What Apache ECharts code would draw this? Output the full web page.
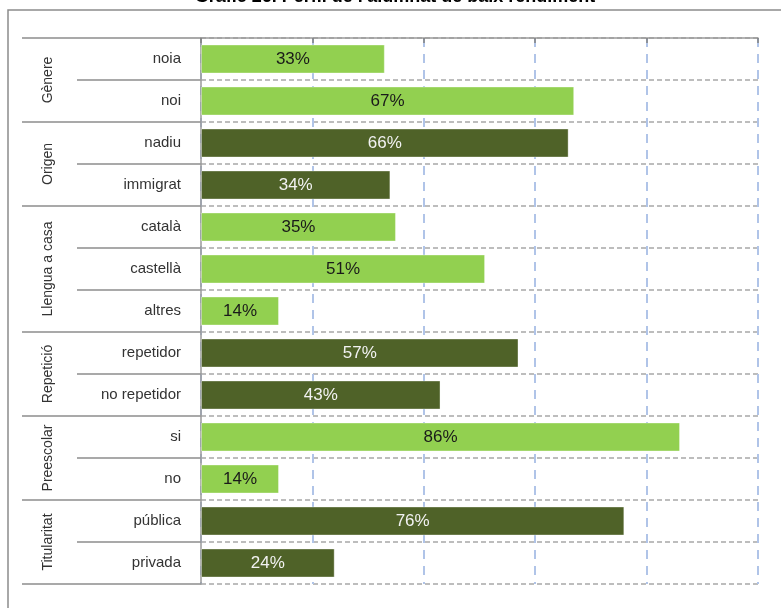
<!DOCTYPE html>
<html>
<head>
<meta charset="utf-8">
<script src="https://cdn.jsdelivr.net/npm/echarts@6/dist/echarts.min.js"></script>
<style>
html,body{margin:0;padding:0;background:#fff;}
#c{width:781px;height:608px;}
</style>
</head>
<body>
<div id="c"></div>
<script>
const titleText = "Gràfic 26. Perfil de l'alumnat de baix rendiment";
const categories = ['noia','noi','nadiu','immigrat','català','castellà','altres','repetidor','no repetidor','si','no','pública','privada'];
const values = [33,67,66,34,35,51,14,57,43,86,14,76,24];
const groups = ['Gènere','Origen','Llengua a casa','Repetició','Preescolar','Titularitat'];
const groupSizes = [2,2,3,2,2,2];
const axisTicks = [0,20,40,60,80,100];

const LIGHT = '#92D050', DARK = '#4F6228';
const groupOf = [];
groupSizes.forEach((n,g)=>{ for(let i=0;i<n;i++) groupOf.push(g); });

const chart = echarts.init(document.getElementById('c'));
const option = {
  animation:false,
  backgroundColor:'#fff',
  grid:{left:201,right:23,top:38,bottom:24,containLabel:false},
  xAxis:{
    type:'value', position:'top', min:axisTicks[0], max:axisTicks[axisTicks.length-1], interval:axisTicks[1]-axisTicks[0],
    axisLine:{show:true,lineStyle:{color:'#9a9a9a',width:1.5}},
    axisTick:{show:true,inside:true,length:5,lineStyle:{color:'#808080',width:1.5}},
    axisLabel:{show:false},
    splitLine:{show:true,lineStyle:{color:'#B0C4E8',type:[9,7],width:2}}
  },
  yAxis:{
    type:'category', inverse:true, data:categories,
    axisLine:{show:true,lineStyle:{color:'#9a9a9a',width:1.5}},
    axisTick:{show:false},
    axisLabel:{margin:20,fontSize:15,color:'#333',fontFamily:'Liberation Sans, Arial, sans-serif'},
    splitLine:{show:true,lineStyle:{color:'#a8a8a8',type:[5,3],width:1.5}}
  },
  series:[{
    type:'bar',
    barWidth:29,
    data:values.map((v,i)=>({
      value:v,
      itemStyle:{color: groupOf[i]%2===0?LIGHT:DARK, borderColor:'rgba(255,255,255,0.35)', borderWidth:1},
      label:{color: groupOf[i]%2===0?'#1a1a1a':'#f2f2f2'}
    })),
    label:{show:true,position:'inside',formatter:'{c}%',fontSize:17,fontFamily:'Liberation Sans, Arial, sans-serif'}
  }]
};
chart.setOption(option);

const centers = categories.map(c=>chart.convertToPixel({yAxisIndex:0}, c));
const band = centers.length>1 ? (centers[1]-centers[0]) : 42;
const axisX = chart.convertToPixel({xAxisIndex:0}, 0);
const els = [];
els.push({type:'rect',shape:{x:8,y:10,width:800,height:640},style:{fill:'none',stroke:'#8c8c8c',lineWidth:1.5},silent:true});
els.push({type:'text',x:395,y:6,style:{text:titleText,font:'bold 18px "Liberation Sans", Arial, sans-serif',fill:'#000',textAlign:'center',textVerticalAlign:'bottom'}});
const groupEnds = [];
let acc = 0; groupSizes.forEach(n=>{acc+=n; groupEnds.push(acc);});
for(let b=0;b<=categories.length;b++){
  const y = b<categories.length ? centers[b]-band/2 : centers[categories.length-1]+band/2;
  const isGroup = b===0 || groupEnds.indexOf(b)>=0;
  els.push({type:'line',shape:{x1:isGroup?22:77,y1:y,x2:axisX,y2:y},style:{stroke:'#8c8c8c',lineWidth:1.5},silent:true});
}
let start=0;
groupSizes.forEach((n,g)=>{
  const yTop = centers[start]-band/2;
  const yBot = centers[start+n-1]+band/2;
  els.push({type:'text',x:48,y:(yTop+yBot)/2,rotation:Math.PI/2,style:{text:groups[g],font:'14px "Liberation Sans", Arial, sans-serif',fill:'#333',textAlign:'center',textVerticalAlign:'middle'}});
  start+=n;
});
chart.setOption({graphic:{elements:els}});
</script>
</body>
</html>
